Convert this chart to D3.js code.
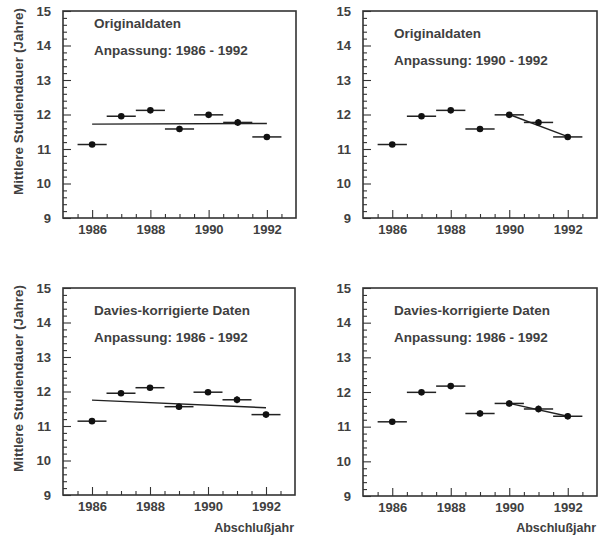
<!DOCTYPE html>
<html lang="de">
<head>
<meta charset="utf-8">
<title>Mittlere Studiendauer</title>
<script src="https://d3js.org/d3.v7.min.js"></script>
<style>
    body { margin: 0; background: #fff; overflow: hidden; }
    svg { display: block; }
    svg text { font-family: "Liberation Sans", Arial, sans-serif; font-weight: bold; fill: #404040; }
</style>
</head>
<body>
<div id="chart"></div>
<script>
var WIDTH = 600;
var HEIGHT = 535;

// data
var years = [1986, 1987, 1988, 1989, 1990, 1991, 1992];
var origVals = [11.13, 11.95, 12.12, 11.58, 11.99, 11.77, 11.35];
var origErr  = [0.07, 0.06, 0.06, 0.09, 0.08, 0.10, 0.08];
var daviesVals = [11.14, 11.95, 12.11, 11.56, 11.98, 11.76, 11.33];
var daviesErr  = [0.07, 0.06, 0.06, 0.09, 0.08, 0.10, 0.08];
var daviesVals2 = [11.14, 11.99, 12.17, 11.38, 11.67, 11.51, 11.30];
var daviesErr2  = [0.07, 0.06, 0.07, 0.09, 0.09, 0.10, 0.09];

// fit lines: [start year, end year] and values at both ends
var fitAllYears = [1986, 1992];
var fitLateYears = [1990, 1992];
var fitOrigAll = [11.72, 11.74];
var fitOrigLate = [12.00, 11.36];
var fitDaviesAll = [11.75, 11.53];
var fitDaviesLate = [11.67, 11.30];

var yTicks = [9, 10, 11, 12, 13, 14, 15];
var xTicks = [1986, 1988, 1990, 1992];

var panels = [
    {left: 63, top: 11, w: 233, h: 207, vals: origVals, err: origErr,
     fitX: fitAllYears, fitY: fitOrigAll, title: "Originaldaten", sub: "Anpassung: 1986 - 1992", ty: 28, ytitle: true},
    {left: 363, top: 11, w: 234, h: 207, vals: origVals, err: origErr,
     fitX: fitLateYears, fitY: fitOrigLate, title: "Originaldaten", sub: "Anpassung: 1990 - 1992", ty: 38},
    {left: 63, top: 288, w: 232, h: 207, vals: daviesVals, err: daviesErr,
     fitX: fitAllYears, fitY: fitDaviesAll, title: "Davies-korrigierte Daten", sub: "Anpassung: 1986 - 1992", ty: 315, ytitle: true, xtitle: true},
    {left: 363, top: 288, w: 234, h: 208, vals: daviesVals2, err: daviesErr2,
     fitX: fitLateYears, fitY: fitDaviesLate, title: "Davies-korrigierte Daten", sub: "Anpassung: 1986 - 1992", ty: 315, xtitle: true}
];

var svg = d3.select("#chart").append("svg")
    .attr("width", WIDTH)
    .attr("height", HEIGHT);

panels.forEach(function(p) {
    var x = d3.scaleLinear().domain([1985, 1993]).range([p.left, p.left + p.w]);
    var y = d3.scaleLinear().domain([9, 15]).range([p.top + p.h, p.top]);
    var g = svg.append("g");

    // minor ticks
    var minorX = d3.range(1985.5, 1993, 0.5).filter(function(v) { return v % 2 != 0; });
    g.append("g")
        .attr("transform", "translate(0," + (p.top + p.h) + ")")
        .call(d3.axisBottom(x).tickValues(minorX).tickSize(-4).tickFormat(""))
        .call(function(a) { a.select(".domain").remove(); });
    var minorY = d3.range(9.2, 15, 0.2).filter(function(v) { return Math.abs(v - Math.round(v)) > 0.01; });
    g.append("g")
        .attr("transform", "translate(" + p.left + ",0)")
        .call(d3.axisLeft(y).tickValues(minorY).tickSize(-4).tickFormat(""))
        .call(function(a) { a.select(".domain").remove(); });

    // major ticks + labels
    var xa = g.append("g")
        .attr("transform", "translate(0," + (p.top + p.h) + ")")
        .call(d3.axisBottom(x).tickValues(xTicks).tickSize(-8).tickPadding(7).tickFormat(d3.format("d")));
    xa.select(".domain").remove();
    var ya = g.append("g")
        .attr("transform", "translate(" + p.left + ",0)")
        .call(d3.axisLeft(y).tickValues(yTicks).tickSize(-8).tickPadding(12).tickFormat(d3.format("d")));
    ya.select(".domain").remove();
    g.selectAll(".tick line").attr("stroke", "#333").attr("stroke-width", 1.1);
    g.selectAll(".tick text").attr("font-size", 13).attr("font-family", null).attr("fill", null);

    // frame
    g.append("rect")
        .attr("x", p.left).attr("y", p.top)
        .attr("width", p.w).attr("height", p.h)
        .attr("fill", "none").attr("stroke", "#333").attr("stroke-width", 1.6);

    // fit line
    g.append("line")
        .attr("x1", x(p.fitX[0])).attr("y1", y(p.fitY[0]))
        .attr("x2", x(p.fitX[1])).attr("y2", y(p.fitY[1]))
        .attr("stroke", "#222").attr("stroke-width", 1.4);

    // data points with error bars
    var pts = g.selectAll(".pt").data(years).enter().append("g").attr("class", "pt");
    pts.append("line")
        .attr("x1", function(d) { return x(d - 0.5); })
        .attr("x2", function(d) { return x(d + 0.5); })
        .attr("y1", function(d, i) { return y(p.vals[i]); })
        .attr("y2", function(d, i) { return y(p.vals[i]); })
        .attr("stroke", "#222").attr("stroke-width", 1.5);
    pts.append("line")
        .attr("x1", function(d) { return x(d); })
        .attr("x2", function(d) { return x(d); })
        .attr("y1", function(d, i) { return y(p.vals[i] - p.err[i]); })
        .attr("y2", function(d, i) { return y(p.vals[i] + p.err[i]); })
        .attr("stroke", "#222").attr("stroke-width", 1.6);
    pts.append("circle")
        .attr("cx", function(d) { return x(d); })
        .attr("cy", function(d, i) { return y(p.vals[i]); })
        .attr("r", 3.3)
        .attr("fill", "#111");

    // texts
    g.append("text").attr("x", p.left + 31).attr("y", p.ty).attr("font-size", 13.5).text(p.title);
    g.append("text").attr("x", p.left + 31).attr("y", p.ty + 27).attr("font-size", 13.5).text(p.sub);

    if (p.ytitle) {
        g.append("text")
            .attr("transform", "translate(22.5," + (p.top + p.h / 2 - 13) + ") rotate(-90)")
            .attr("text-anchor", "middle")
            .attr("font-size", 13.5)
            .text("Mittlere Studiendauer (Jahre)");
    }
    if (p.xtitle) {
        g.append("text")
            .attr("x", p.left + p.w - 1).attr("y", 532)
            .attr("text-anchor", "end")
            .attr("font-size", 12.5)
            .text("Abschlußjahr");
    }
});
</script>
</body>
</html>
